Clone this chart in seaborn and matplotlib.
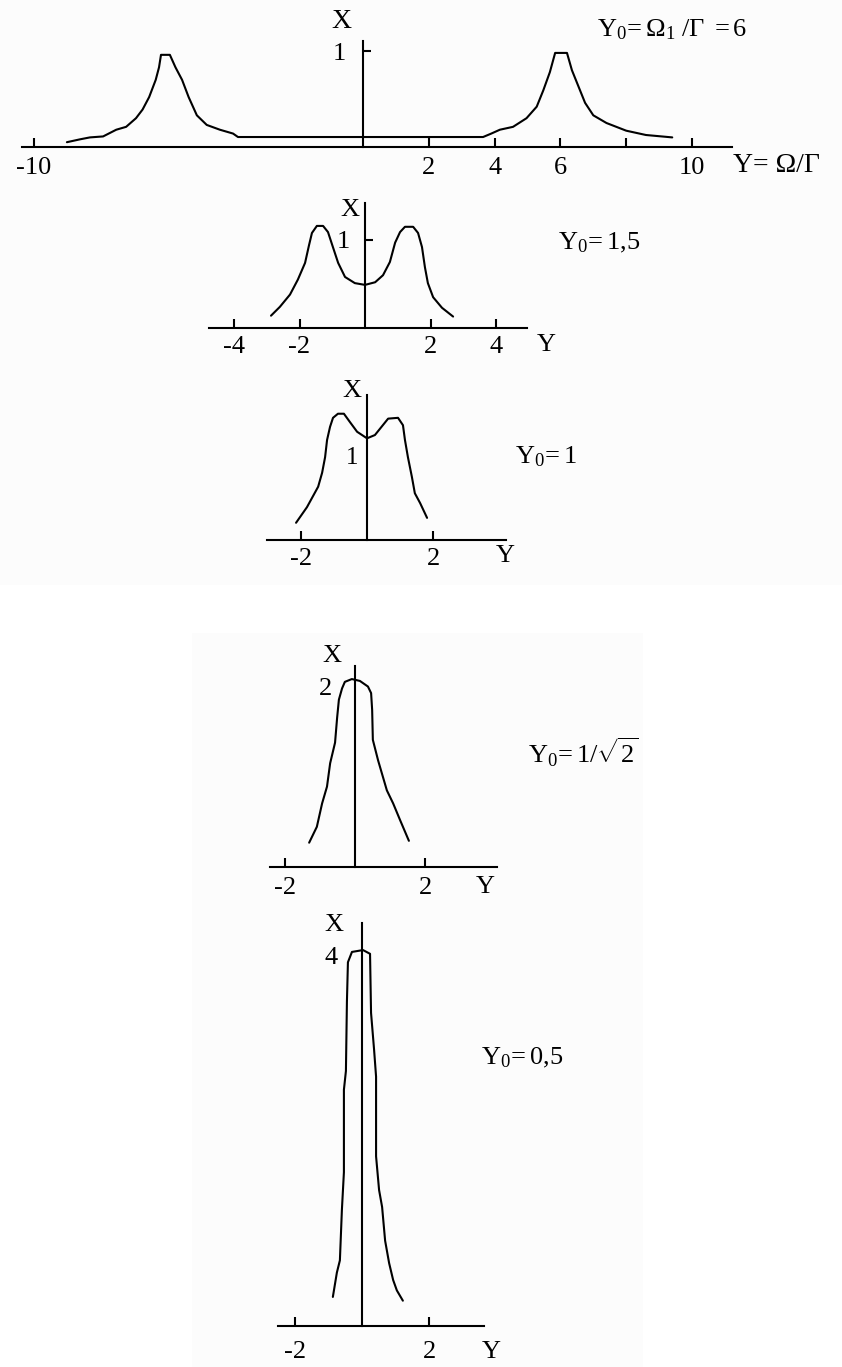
import numpy as np
import pandas as pd
import matplotlib
matplotlib.use("Agg")
import matplotlib.pyplot as plt
from matplotlib.patches import Rectangle
import seaborn as sns

# ---------------- data: X(Y) profiles for several values of Y0 ----------------
# Y0 = 6
y_p1 = [-9.0, -8.6, -8.3, -7.9, -7.5, -7.2, -6.9, -6.7, -6.5, -6.3, -6.2, -6.14,
        -5.87, -5.7, -5.5, -5.3, -5.05, -4.75, -4.35, -3.95, -3.8, 3.65, 3.9, 4.16,
        4.56, 4.97, 5.28, 5.48, 5.68, 5.84, 6.2, 6.35, 6.55, 6.75, 7.0, 7.4, 8.0,
        8.6, 9.4]
x_p1 = [0.05, 0.08, 0.10, 0.11, 0.18, 0.21, 0.30, 0.39, 0.52, 0.70, 0.83, 0.96,
        0.96, 0.83, 0.70, 0.52, 0.33, 0.23, 0.18, 0.14, 0.104, 0.104, 0.14, 0.18,
        0.21, 0.30, 0.42, 0.59, 0.78, 0.98, 0.98, 0.80, 0.63, 0.46, 0.33, 0.25, 0.17,
        0.125, 0.10]

# Y0 = 1,5
y_p2 = [-2.87, -2.60, -2.29, -2.05, -1.83, -1.71, -1.62, -1.47, -1.28, -1.13, -0.98,
        -0.82, -0.61, -0.31, 0.0, 0.31, 0.55, 0.76, 0.92, 1.07, 1.22, 1.47, 1.62,
        1.74, 1.83, 1.92, 2.08, 2.35, 2.69]
x_p2 = [0.14, 0.24, 0.38, 0.55, 0.74, 0.94, 1.08, 1.16, 1.16, 1.09, 0.92, 0.74,
        0.58, 0.51, 0.49, 0.52, 0.60, 0.75, 0.97, 1.09, 1.15, 1.15, 1.08, 0.92,
        0.69, 0.51, 0.35, 0.23, 0.13]

# Y0 = 1
y_p3 = [-2.15, -1.82, -1.48, -1.36, -1.27, -1.21, -1.12, -1.03, -0.88, -0.70, -0.52,
        -0.30, 0.0, 0.24, 0.48, 0.64, 0.94, 1.09, 1.15, 1.24, 1.36, 1.45, 1.61, 1.82]
x_p3 = [0.21, 0.40, 0.65, 0.82, 1.01, 1.22, 1.38, 1.49, 1.54, 1.54, 1.44, 1.32,
        1.24, 1.28, 1.40, 1.48, 1.49, 1.40, 1.22, 1.01, 0.77, 0.57, 0.45, 0.27]

# Y0 = 1/sqrt(2)
y_p4 = [-1.31, -1.09, -0.94, -0.80, -0.71, -0.57, -0.51, -0.46, -0.37, -0.29, -0.09,
        0.14, 0.37, 0.46, 0.49, 0.51, 0.66, 0.91, 1.09, 1.29, 1.54]
x_p4 = [0.26, 0.43, 0.68, 0.86, 1.11, 1.33, 1.60, 1.79, 1.91, 1.98, 2.01, 1.99,
        1.93, 1.86, 1.68, 1.36, 1.14, 0.82, 0.68, 0.50, 0.28]

# Y0 = 0,5
y_p5 = [-0.87, -0.75, -0.66, -0.60, -0.54, -0.54, -0.54, -0.48, -0.45, -0.42, -0.30,
        0.03, 0.24, 0.27, 0.36, 0.42, 0.42, 0.51, 0.60, 0.69, 0.81, 0.93, 1.04, 1.22]
x_p5 = [0.31, 0.57, 0.70, 1.24, 1.64, 2.09, 2.52, 2.72, 3.46, 3.88, 3.99, 4.01,
        3.97, 3.34, 2.95, 2.66, 1.81, 1.45, 1.27, 0.91, 0.67, 0.49, 0.38, 0.27]

# tick values and their labels
xt_p1 = [-10, 2, 4, 6, 8, 10]
xl_p1 = ["-10", "2", "4", "6", "", "10"]
xt_p2 = [-4, -2, 2, 4]
xl_p2 = ["-4", "-2", "2", "4"]
xt_small = [-2, 2]
xl_small = ["-2", "2"]

# ---------------- style ----------------
sns.set_theme(style="white")
plt.rcParams["font.family"] = ["Liberation Serif", "DejaVu Serif"]
plt.rcParams["mathtext.fontset"] = "custom"
plt.rcParams["mathtext.rm"] = "Liberation Serif"
plt.rcParams["mathtext.it"] = "Liberation Serif:italic"
plt.rcParams["mathtext.bf"] = "Liberation Serif:bold"
plt.rcParams["axes.unicode_minus"] = False

W, H = 842, 1367
LW = 1.5
FS = 19

fig = plt.figure(figsize=(W / 100, H / 100), dpi=100)
fig.patch.set_facecolor("white")

# faint scanned-page tones
fig.add_artist(Rectangle((0, 1 - 585 / H), 1, 585 / H, transform=fig.transFigure,
                         facecolor="#fcfcfc", edgecolor="none", zorder=-10))
fig.add_artist(Rectangle((192 / W, 0), (643 - 192) / W, (H - 633) / H,
                         transform=fig.transFigure, facecolor="#fcfcfc",
                         edgecolor="none", zorder=-10))


def ptext(x, y, s, size=FS, ha="center", va="center"):
    fig.text(x / W, 1 - y / H, s, fontsize=size, ha=ha, va=va, color="black")


def panel(left, right, x0, sx, base, top, sy, yv, xv, xticks, xlabels,
          yticks=(), ylabels=(), xpad=6, ypad=12):
    ax = fig.add_axes([left / W, 1 - base / H, (right - left) / W, (base - top) / H])
    ax.set_facecolor("none")
    df = pd.DataFrame({"Y": yv, "X": xv})
    sns.lineplot(data=df, x="Y", y="X", ax=ax, sort=False, estimator=None,
                 color="black", linewidth=LW)
    ax.set_xlim((left - x0) / sx, (right - x0) / sx)
    ax.set_ylim(0, (base - top) / sy)
    for s in ("top", "right"):
        ax.spines[s].set_visible(False)
    for s in ("left", "bottom"):
        ax.spines[s].set_linewidth(LW)
        ax.spines[s].set_color("black")
    ax.spines["left"].set_position(("data", 0))
    ax.set_xticks(xticks, labels=xlabels)
    ax.set_yticks(list(yticks), labels=list(ylabels))
    ax.tick_params(axis="x", direction="in", length=6.5, width=LW, pad=xpad,
                   labelsize=FS, colors="black", bottom=True)
    ax.tick_params(axis="y", direction="in", length=6, width=LW, pad=ypad,
                   labelsize=FS, colors="black", left=True)
    ax.set_xlabel("")
    ax.set_ylabel("")
    return ax


# Y0 = 6
panel(22, 732, 363, 32.9, 147, 41, 96, y_p1, x_p1, xt_p1, xl_p1, [1], ["1"],
      xpad=7, ypad=12)
ptext(341, 22, "X", size=20)
ptext(733, 166, "Y= Ω/Γ", size=20, ha="left")
ptext(597, 30, r"$\mathrm{Y_0\!=\Omega_1\ /\Gamma\ =6}$", size=19, ha="left")

# Y0 = 1,5
panel(209, 527, 365, 32.75, 328, 203, 88, y_p2, x_p2, xt_p2, xl_p2, [1], ["1"],
      xpad=6, ypad=11)
ptext(350, 210, "X", size=19)
ptext(546, 345, "Y", size=19)
ptext(558, 243, r"$\mathrm{Y_0\!=1{,}5}$", size=19, ha="left")

# Y0 = 1
panel(267, 506, 367, 33, 540, 395, 82, y_p3, x_p3, xt_small, xl_small, xpad=6)
ptext(352, 391, "X", size=19)
ptext(352, 458, "1", size=18)
ptext(505, 556, "Y", size=19)
ptext(515, 457, r"$\mathrm{Y_0\!=1}$", size=19, ha="left")

# Y0 = 1/sqrt(2)
panel(270, 497, 355, 35, 867, 666, 93.5, y_p4, x_p4, xt_small, xl_small, xpad=7)
ptext(332, 656, "X", size=19)
ptext(326, 689, "2", size=19)
ptext(485, 887, "Y", size=19)
ptext(528, 752, r"$\mathrm{Y_0\!=1/\sqrt{2}}$", size=19, ha="left")

# Y0 = 0,5
panel(278, 484, 362, 33.5, 1326, 923, 93.75, y_p5, x_p5, xt_small, xl_small,
      xpad=11)
ptext(334, 925, "X", size=19)
ptext(331, 958, "4", size=19)
ptext(491, 1352, "Y", size=19)
ptext(481, 1058, r"$\mathrm{Y_0\!=0{,}5}$", size=19, ha="left")

fig.savefig("out.png", dpi=100, facecolor="white")
